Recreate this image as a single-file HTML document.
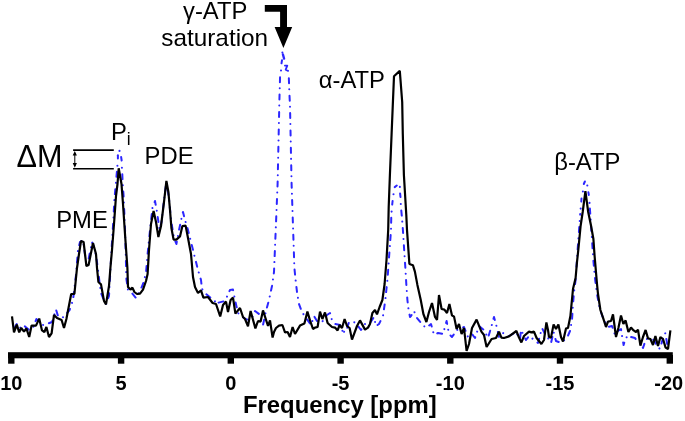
<!DOCTYPE html>
<html><head><meta charset="utf-8"><title>31P spectrum</title>
<style>
html,body{margin:0;padding:0;background:#fff;}
body{width:685px;height:421px;overflow:hidden;font-family:"Liberation Sans",sans-serif;}
svg{display:block;will-change:transform;}
text{font-family:"Liberation Sans",sans-serif;fill:#000;}
.tl{font-weight:bold;font-size:20px;}
.lb{font-size:23.8px;}
</style></head>
<body>
<svg width="685" height="421" viewBox="0 0 685 421">
<rect width="685" height="421" fill="#fff"/>
<polyline points="116.9,171.8 115.6,186 114.4,200 113,226 111.5,250 110,278 109,296 106,304 103,298 101,293 100,286 97,262 95,250 92,242 88,262 86,262 83,240 80,242 78,250 76,275 73,300 69.6,310 65,315.6 62,318 58,316 56,309.6 52,322 48,323.6 43,325 40,323 36.4,319 33,328 29,330 25,326.4 23,325 20,328 17,323.6 15,327 13,332.4" fill="none" stroke="#2c26ff" stroke-width="2" stroke-linecap="round" stroke-linejoin="round" stroke-dasharray="5 6 0.01 6.39"/><polyline points="122.3,174.2 122.6,182 123.6,196 124.3,212 125.2,234 126.4,279 128,290 131,292 136,298 140,291 143,284 146,273 147.6,254 150,230 152.4,208 155,201 157,212 159.6,230 161.5,222 164,200 166.4,182 169,198 171,220 174,238 176.4,244 179,230 181.6,218 183,212 185,220 188,230 192,246 195,258 198,270 201,280 202,289 206,294 217,303" fill="none" stroke="#2c26ff" stroke-width="2" stroke-linecap="round" stroke-linejoin="round" stroke-dasharray="5 6 0.01 6.39"/><polyline points="280.05,77.2 279.4,100 277.6,184 274,272 272,286 269,300 266,311 263,325 259,314 255,311 252,318 246.6,319.6 241,316 238,313 234.6,298 233,289.6 230,290 225,301 217,303" fill="none" stroke="#2c26ff" stroke-width="2" stroke-linecap="round" stroke-linejoin="round" stroke-dasharray="5 6 0.01 6.39"/><polyline points="288.85,78.3 289.4,93.3 290,106 291.6,184 294.4,268 295.6,280 297,292 299,304 302,312 306,318 311,325 314,316 317,321 322,322 327,315 330,313 332,320.4 335,324 340,325 343,332" fill="none" stroke="#2c26ff" stroke-width="2" stroke-linecap="round" stroke-linejoin="round" stroke-dasharray="5 6 0.01 6.39"/><polyline points="391.25,217.7 391,230 389.2,255 387.6,278 385.3,300 383,316 379,324 376,326 374,317 370,323 365,324 361,330 358,326 354,322 349,322 346,331.6 343,332" fill="none" stroke="#2c26ff" stroke-width="2" stroke-linecap="round" stroke-linejoin="round" stroke-dasharray="5 6 0.01 6.39"/><polyline points="401.3,210.6 402,218 402.9,230 404.5,255 405.5,270 406.3,284 407.4,300 408.6,310 410,317 411,316 414,311 417,318 421,323 426,328 431,324 434,335 438,333 443,334 446.6,321 449,334 452,337 457,330 464,327 468,337 472,334 475,338 479,326 484,330 488,338 491,328 494,317 497,328 499,337 503,333 509,336 516,332 520,339 521,330 526,340 529,336 533,339 538,343 542,328 545,334 548,338 551,343 553.6,332 556,341 560,342.4 563,341 567,338 570,331 572,320 573,304 574,292 575.6,280 577.6,250 580.2,214" fill="none" stroke="#2c26ff" stroke-width="2" stroke-linecap="round" stroke-linejoin="round" stroke-dasharray="5 6 0.01 6.39"/><polyline points="589.9,208.6 592,240 593.5,262 595.2,280 597,294 599.6,308 603,318 608,327 612,326 615,335 618,331 621,329 622.4,338 623.6,345 625,340 628,335 631,337 635,338 637,341 641,342 643,348 646,339 650,339 654,340 657,346 660,349 663,338 665.4,333 667,343 668,349" fill="none" stroke="#2c26ff" stroke-width="2" stroke-linecap="round" stroke-linejoin="round" stroke-dasharray="5 6 0.01 6.39"/><circle cx="119.5" cy="150.9" r="1.05" fill="#2c26ff"/><line x1="117.9" y1="155.2" x2="117.9" y2="158.6" stroke="#2c26ff" stroke-width="2" stroke-linecap="round"/><line x1="121.15" y1="157.1" x2="121.65" y2="160.5" stroke="#2c26ff" stroke-width="2" stroke-linecap="round"/><circle cx="117.4" cy="165.7" r="1.05" fill="#2c26ff"/><circle cx="121.9" cy="167.8" r="1.05" fill="#2c26ff"/><circle cx="282.4" cy="52.6" r="1.05" fill="#2c26ff"/><line x1="282.9" y1="54.4" x2="284.1" y2="58.6" stroke="#2c26ff" stroke-width="2.3" stroke-linecap="round"/><line x1="282.0" y1="60.2" x2="281.5" y2="63.3" stroke="#2c26ff" stroke-width="2" stroke-linecap="round"/><polyline points="284.9,65.6 287.3,65.6 285.7,69.7 288.1,70.9" fill="none" stroke="#2c26ff" stroke-width="1.8" stroke-linecap="round" stroke-linejoin="round"/><circle cx="281" cy="70.5" r="1.05" fill="#2c26ff"/><circle cx="391.6" cy="211.6" r="1.05" fill="#2c26ff"/><line x1="392.2" y1="204.6" x2="392.6" y2="201.0" stroke="#2c26ff" stroke-width="2" stroke-linecap="round"/><circle cx="393.5" cy="194.3" r="1.05" fill="#2c26ff"/><line x1="394.7" y1="187.1" x2="396.8" y2="185.5" stroke="#2c26ff" stroke-width="2" stroke-linecap="round"/><circle cx="399.85" cy="186.9" r="1.05" fill="#2c26ff"/><line x1="400.1" y1="193.4" x2="400.5" y2="197.0" stroke="#2c26ff" stroke-width="2" stroke-linecap="round"/><circle cx="400.8" cy="204" r="1.05" fill="#2c26ff"/><line x1="583.8" y1="184.0" x2="584.9" y2="181.5" stroke="#2c26ff" stroke-width="2" stroke-linecap="round"/><circle cx="587.3" cy="185.5" r="1.05" fill="#2c26ff"/><circle cx="582.9" cy="191.5" r="1.05" fill="#2c26ff"/><line x1="588.4" y1="192.3" x2="588.8" y2="194.95" stroke="#2c26ff" stroke-width="2" stroke-linecap="round"/><circle cx="589.5" cy="202.9" r="1.05" fill="#2c26ff"/><line x1="581.5" y1="198.5" x2="581.3" y2="201.6" stroke="#2c26ff" stroke-width="2" stroke-linecap="round"/><circle cx="580.7" cy="208.6" r="1.05" fill="#2c26ff"/>
<polyline points="12,316.4 14,332.4 16.8,324.6 19.2,332.4 21.2,328 24,331.6 26.4,328.4 29.2,337 31.6,325.6 36,325.6 39.2,318.6 42,330.4 44.4,332 46.4,327 49,337 51.6,333.4 54,315 57,318 61.6,320 64,328 66.4,319 71.2,294 74.4,294 77,268 79,254 81,241 83.6,242 86.4,266 88.6,265 93,243 96,254 97,268 98.4,282 101,284.4 104,301 106,304.4 109,286 110.4,268 112,250 114,224 116,196 117.5,184 118.7,168.3 121.5,184 123,204 125,234 127.4,268 128,287 130.4,289.6 132.4,287.6 134.4,292 137,294 140,293.6 143,289.6 146,281 147.6,274 149,250 151,224 153.6,211 156,222 158.4,237 161,226 164,202 166.4,180.9 168.4,192 170,210 171.4,228 173.6,239.6 176.4,239.6 180,236.4 182.4,226 185.6,225.6 188,238 191,254 193,277 195,287 198,293 201,290.4 203.4,297.6 208,297 212.6,303 216,304 220.2,316.4 223,305 226,301.6 228,312 230.6,300 233,297.6 235.4,313.6 240,308 243,317 245,319 248,326.4 250.6,311 255.4,328.4 258,321 260.6,321.6 263,310.4 268,326 270,320.4 272.6,337.6 274,332 276,328 279,325.6 282.4,325 285,332.4 287.6,332 290,337 292.6,327 295,334 300,325.6 304.4,323.6 307.4,311.6 310,320.4 313,329 315,327.6 317.6,327 320,311.6 322.4,319 325,312.4 327.6,323 332,327 335,327.6 337.6,330.4 339.6,325 342,328 344.6,319 347,326 349.6,328 352,339.6 357,326 360,320.4 365,329.6 368,327.6 370,324 372.4,313 375,310 377,314.4 379.6,307 382.4,300 384.6,284 386.5,260 388.2,230 388.7,207 389.9,175 391.6,134 393,100 394,76.3 399.8,70.9 402.2,102 402.8,134 403.9,175 406.3,215 407,230 409.4,264 412.9,265.2 414.9,271.6 417.4,284.9 420.7,299.8 423.4,314 426.4,322 429,312 432,303 435,317 437,320 439,295 441.6,309 444.4,309.6 447,313 449.4,304 452,315.6 454,316.4 456.6,329 459,324 461.6,334 464,328 466.6,351 469,344 472,328 476.6,319.6 481.4,331.6 484,335 486.6,347 491.6,339 496,338 499,331.6 501.4,337.6 504,338 509,336.4 516.4,331 519,337.6 521.4,342.4 524,336 529,331.6 531.4,332.4 534,331.6 536.6,338 541.4,344 544,340 546.4,322.4 548,330 549,337 551,337.6 553.6,324.4 556,329 558.4,324.4 561,337 563,341.6 566,328.4 568,328 570.4,316 573,289 575.6,278 577,262 578.3,250 580.6,226 582.7,212 585.4,191.2 588.2,212 590.9,225 593.4,239 594.6,256 597,284 598,294 600.4,310 603,317.6 606,327 608,321.6 611,321 613,314.4 616,337 618.4,328 621,315.6 623.4,324 625.6,320.4 628.4,332 631,327.6 633.6,330.4 636,332 638,329.6 640.4,345.6 643,337 645.6,330 648,338.4 650.4,339 653,345 655.4,336 658,346 660.4,337 663,339 665.6,347.6 668,349 670.4,330.4" fill="none" stroke="#000" stroke-width="2.2" stroke-linejoin="bevel"/>
<rect x="8" y="352.2" width="664.8" height="6.1" fill="#000"/>
<rect x="8.1" y="355" width="6.4" height="8.7" fill="#000"/><rect x="117.9" y="355" width="6.4" height="8.7" fill="#000"/><rect x="227.6" y="355" width="6.4" height="8.7" fill="#000"/><rect x="337.4" y="355" width="6.4" height="8.7" fill="#000"/><rect x="447.1" y="355" width="6.4" height="8.7" fill="#000"/><rect x="556.8" y="355" width="6.4" height="8.7" fill="#000"/><rect x="666.6" y="355" width="6.4" height="8.7" fill="#000"/>
<text x="11.3" y="389.5" text-anchor="middle" class="tl">10</text><text x="121.1" y="389.5" text-anchor="middle" class="tl">5</text><text x="230.8" y="389.5" text-anchor="middle" class="tl">0</text><text x="340.6" y="389.5" text-anchor="middle" class="tl">-5</text><text x="450.3" y="389.5" text-anchor="middle" class="tl">-10</text><text x="560.0" y="389.5" text-anchor="middle" class="tl">-15</text><text x="668.7" y="389.5" text-anchor="middle" class="tl">-20</text>
<text x="339.8" y="412.5" text-anchor="middle" style="font-weight:bold;font-size:23.9px">Frequency [ppm]</text>
<text x="56.2" y="227.7" class="lb">PME</text>
<text x="144.6" y="163.6" class="lb">PDE</text>
<text x="111.1" y="139.8" class="lb">P</text>
<text x="126.8" y="144.8" style="font-size:17.5px">i</text>
<text x="16.6" y="167.4" style="font-size:30.6px">ΔM</text>
<text x="183" y="19" class="lb">γ-ATP</text>
<text x="161.3" y="45.6" class="lb" textLength="106.8" lengthAdjust="spacingAndGlyphs">saturation</text>
<text x="318.8" y="87.9" class="lb">α-ATP</text>
<text x="554.2" y="170.4" class="lb">β-ATP</text>
<!-- delta M marker -->
<line x1="73.1" y1="150.1" x2="113.8" y2="150.1" stroke="#000" stroke-width="1.6"/>
<line x1="73.1" y1="168.7" x2="113.8" y2="168.7" stroke="#000" stroke-width="1.6"/>
<line x1="74.8" y1="153" x2="74.8" y2="166" stroke="#000" stroke-width="1"/>
<path d="M74.8 150.9 L72.7 155.6 L76.9 155.6 Z M74.8 167.8 L72.7 163.1 L76.9 163.1 Z" fill="#000"/>
<!-- saturation arrow -->
<path d="M264.8 5 H287 V27 H292.2 L283.4 47.9 L274.6 27 H280.1 V11.7 H264.8 Z" fill="#000"/>
</svg>
</body></html>
